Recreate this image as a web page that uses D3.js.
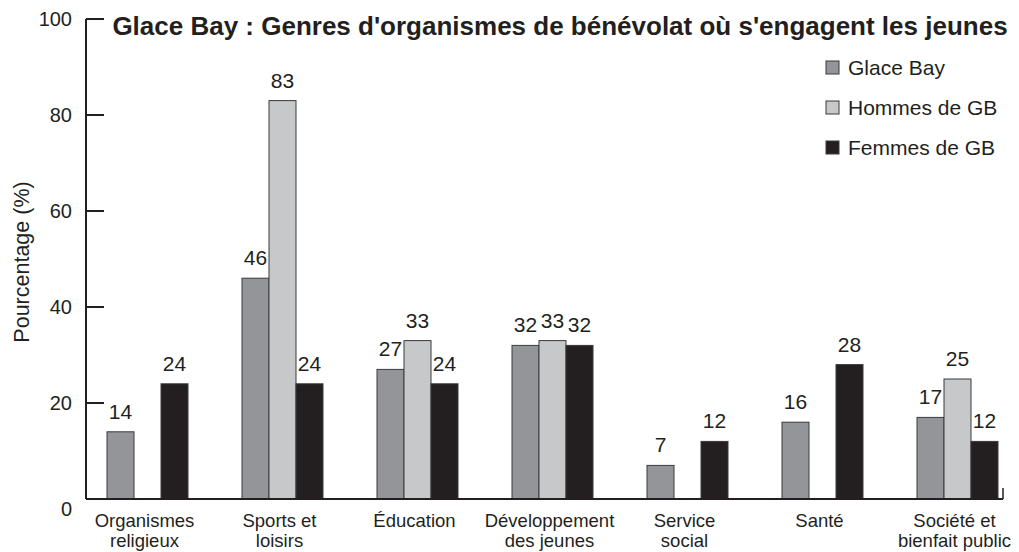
<!DOCTYPE html>
<html>
<head>
<meta charset="utf-8">
<script src="https://cdn.jsdelivr.net/npm/d3@7"></script>
<style>
  body { margin: 0; background: #fff; }
  text { font-family: "Liberation Sans", Arial, sans-serif; fill: #231f20; }
</style>
</head>
<body>
<div id="chart"></div>
<script>
// categories (two lines each)
const categories = [
  ["Organismes", "religieux"],
  ["Sports et", "loisirs"],
  ["Éducation"],
  ["Développement", "des jeunes"],
  ["Service", "social"],
  ["Santé"],
  ["Société et", "bienfait public"]
];
const seriesNames = ["Glace Bay", "Hommes de GB", "Femmes de GB"];
const glaceBay = [14, 46, 27, 32, 7, 16, 17];
const hommes = [null, 83, 33, 33, null, null, 25];
const femmes = [24, 24, 24, 32, 12, 28, 12];
const yTicks = [0, 20, 40, 60, 80, 100];

const colors = ["#939598", "#c7c8ca", "#231f20"];
const series = [glaceBay, hommes, femmes];

const W = 1019, H = 552;
const svg = d3.select("#chart").append("svg")
  .attr("width", W).attr("height", H);

const x = d3.scaleBand()
  .domain(d3.range(categories.length))
  .range([80, 1025]);
const barW = 27;
const y = d3.scaleLinear().domain([0, 100]).range([499, 19]);

// bars
series.forEach((vals, s) => {
  svg.append("g").selectAll("rect")
    .data(vals.map((v, i) => ({ v, i })).filter(d => d.v != null))
    .enter().append("rect")
    .attr("x", d => x(d.i) + x.bandwidth() / 2 - 1.5 * barW + s * barW)
    .attr("y", d => y(d.v))
    .attr("width", barW)
    .attr("height", d => y(0) - y(d.v))
    .attr("fill", colors[s])
    .attr("stroke", "#3a3a3a")
    .attr("stroke-width", 1);

  svg.append("g").selectAll("text")
    .data(vals.map((v, i) => ({ v, i })).filter(d => d.v != null))
    .enter().append("text")
    .attr("x", d => x(d.i) + x.bandwidth() / 2 - barW + s * barW)
    .attr("y", d => y(d.v) - 13)
    .attr("text-anchor", "middle")
    .style("font-size", "21px")
    .text(d => d.v);
});

// y axis
svg.append("line")
  .attr("x1", 86).attr("x2", 86)
  .attr("y1", y(100)).attr("y2", y(0))
  .attr("stroke", "#231f20").attr("stroke-width", 2);
svg.append("g").selectAll("line")
  .data(yTicks.filter(t => t > 0))
  .enter().append("line")
  .attr("x1", 86).attr("x2", 104)
  .attr("y1", d => y(d)).attr("y2", d => y(d))
  .attr("stroke", "#231f20").attr("stroke-width", 2);
svg.append("g").selectAll("text")
  .data(yTicks)
  .enter().append("text")
  .attr("x", 72)
  .attr("y", d => y(d) + (d === 0 ? 17 : 7))
  .attr("text-anchor", "end")
  .style("font-size", "20px")
  .text(d => d);

// x axis
svg.append("line")
  .attr("x1", 86).attr("x2", 1003)
  .attr("y1", y(0)).attr("y2", y(0))
  .attr("stroke", "#231f20").attr("stroke-width", 2);
svg.append("line")
  .attr("x1", 1003).attr("x2", 1003)
  .attr("y1", y(0)).attr("y2", y(0) - 11)
  .attr("stroke", "#231f20").attr("stroke-width", 1.5);

svg.append("g").selectAll("text")
  .data(categories)
  .enter().append("text")
  .attr("text-anchor", "middle")
  .style("font-size", "18.5px")
  .each(function (d, i) {
    d3.select(this).selectAll("tspan")
      .data(d).enter().append("tspan")
      .attr("x", x(i) + x.bandwidth() / 2 - 3)
      .attr("y", (t, j) => 527 + j * 20)
      .text(t => t);
  });

// y label
svg.append("text")
  .attr("transform", "translate(29, 262) rotate(-90)")
  .attr("text-anchor", "middle")
  .style("font-size", "21.5px")
  .text("Pourcentage (%)");

// title
svg.append("text")
  .attr("x", 560).attr("y", 35)
  .attr("text-anchor", "middle")
  .style("font-size", "26px")
  .style("font-weight", "bold")
  .text("Glace Bay : Genres d'organismes de bénévolat où s'engagent les jeunes");

// legend
const leg = svg.append("g").selectAll("g")
  .data(seriesNames)
  .enter().append("g")
  .attr("transform", (d, i) => `translate(826, ${68 + i * 40})`);
leg.append("rect")
  .attr("x", 0).attr("y", -7)
  .attr("width", 13).attr("height", 13)
  .attr("fill", (d, i) => colors[i])
  .attr("stroke", "#3a3a3a");
leg.append("text")
  .attr("x", 22).attr("y", 7)
  .style("font-size", "21px")
  .text(d => d);
</script>
</body>
</html>
